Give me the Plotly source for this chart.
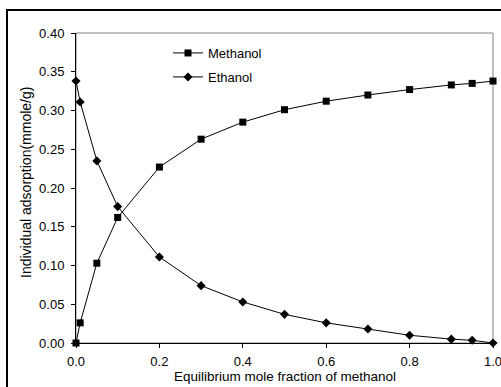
import plotly.graph_objects as go

x_frac = [0.0, 0.01, 0.05, 0.1, 0.2, 0.3, 0.4, 0.5, 0.6, 0.7, 0.8, 0.9, 0.95, 1.0]
methanol = [0.0, 0.026, 0.103, 0.162, 0.227, 0.263, 0.285, 0.301, 0.312, 0.320, 0.327, 0.333, 0.335, 0.338]
ethanol = [0.338, 0.311, 0.235, 0.176, 0.111, 0.074, 0.053, 0.037, 0.026, 0.018, 0.010, 0.005, 0.0035, 0.0]

x_ticks = [0.0, 0.2, 0.4, 0.6, 0.8, 1.0]
y_ticks = [0.00, 0.05, 0.10, 0.15, 0.20, 0.25, 0.30, 0.35, 0.40]
x_title = "Equilibrium mole fraction of methanol"
y_title = "Individual adsorption(mmole/g)"

FONT = "Liberation Sans, Arial, sans-serif"
W, H = 501, 387
ML, MR, MT, MB = 76, 8, 33, 44
pw = W - ML - MR
ph = H - MT - MB

fig = go.Figure()
fig.add_trace(go.Scatter(
    x=x_frac, y=methanol, name="Methanol", mode="lines+markers",
    line=dict(color="black", width=1),
    marker=dict(symbol="square", size=7, color="black"),
    cliponaxis=False, legend="legend"))
fig.add_trace(go.Scatter(
    x=x_frac, y=ethanol, name="Ethanol", mode="lines+markers",
    line=dict(color="black", width=1),
    marker=dict(symbol="diamond", size=7, color="black"),
    cliponaxis=False, legend="legend2"))

# plot-area frame (grey) and outer frame (black)
fig.add_shape(type="rect", xref="paper", yref="paper", x0=0, x1=1, y0=0, y1=1,
              line=dict(color="#808080", width=1), layer="below")
fig.add_shape(type="rect", xref="paper", yref="paper",
              x0=(7 - ML) / pw, x1=1.3, y0=-0.5, y1=(H - MB - 10) / ph,
              line=dict(color="black", width=2))

fig.add_annotation(text=x_title, xref="paper", yref="paper",
                   x=0.5, y=-(376 - (H - MB)) / ph, xanchor="center", yanchor="middle",
                   showarrow=False, font=dict(family=FONT, size=13.5, color="black"))
fig.add_annotation(text=y_title, xref="paper", yref="paper", textangle=-90,
                   x=(26 - ML) / pw, y=((H - MB) - 183) / ph, xanchor="center", yanchor="middle",
                   showarrow=False, font=dict(family=FONT, size=14, color="black"))

leg_common = dict(bgcolor="rgba(0,0,0,0)", borderwidth=0,
                  font=dict(family=FONT, size=13, color="black"),
                  xanchor="left", yanchor="middle")
lx = (168 - ML) / pw
fig.update_layout(
    width=W, height=H,
    showlegend=True,
    margin=dict(l=ML, r=MR, t=MT, b=MB, autoexpand=False),
    paper_bgcolor="white", plot_bgcolor="white",
    font=dict(family=FONT, size=13, color="black"),
    legend=dict(x=lx, y=(H - MB - 53) / ph, **leg_common),
    legend2=dict(x=lx, y=(H - MB - 77) / ph, **leg_common),
    xaxis=dict(range=[0, 1], tickvals=x_ticks, tickformat=".1f",
               showgrid=False, zeroline=False, showline=True, linecolor="black",
               linewidth=1, ticks="outside", ticklen=4, tickcolor="black",
               ticklabelstandoff=2, ticklabeloverflow="allow"),
    yaxis=dict(range=[0, 0.40], tickvals=y_ticks, tickformat=".2f",
               showgrid=False, zeroline=False, showline=True, linecolor="black",
               linewidth=1, ticks="outside", ticklen=4, tickcolor="black",
               ticklabelstandoff=4),
)

fig.write_html("out.html", config={"displayModeBar": False},
               post_script="document.body.style.margin='0';document.body.style.overflow='hidden';")
